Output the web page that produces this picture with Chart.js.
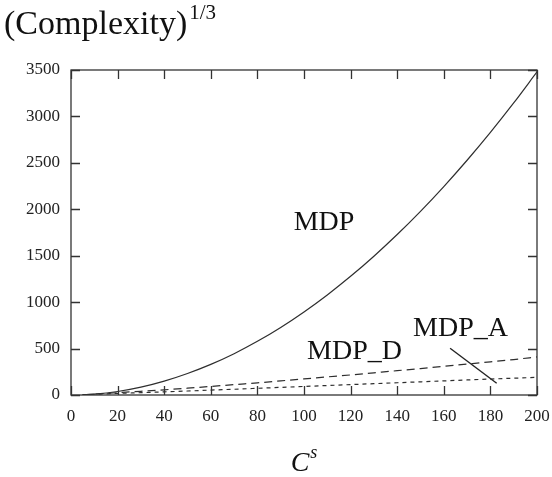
<!DOCTYPE html>
<html>
<head>
<meta charset="utf-8">
<script src="https://cdn.jsdelivr.net/npm/chart.js@4.4.1/dist/chart.umd.min.js"></script>
<style>
  html, body { margin: 0; padding: 0; background: #fff; }
</style>
</head>
<body>
<canvas id="chart" width="552" height="477"></canvas>
<script>
// values
var xValues     = [5, 10, 20, 30, 40, 50, 60, 70, 80, 90, 100, 110, 120, 130, 140, 150, 160, 170, 180, 190, 200];
var mdpValues   = [2, 9, 38, 85, 150, 232, 330, 445, 578, 728, 895, 1078, 1278, 1495, 1728, 1978, 2245, 2528, 2828, 3145, 3480];
var mdpDValues  = [3, 10, 25, 40, 56, 73, 92, 112, 131, 152, 173, 195, 216, 239, 262, 285, 309, 333, 357, 382, 410];
var mdpAValues  = [3, 8, 17, 25, 34, 43, 53, 62, 72, 82, 92, 102, 112, 122, 132, 142, 152, 162, 172, 181, 190];
var xTickValues = [0, 20, 40, 60, 80, 100, 120, 140, 160, 180, 200];
var yTickValues = [0, 500, 1000, 1500, 2000, 2500, 3000, 3500];
// pointer line from the MDP_A label down to its curve
var leaderX = [162.7, 182.7];
var leaderY = [503, 126];

var serif = "'Liberation Serif', 'DejaVu Serif', serif";
var ink = '#2e2e2e';

function pairs(xs, ys) {
    return xs.map(function (x, i) { return { x: x, y: ys[i] }; });
}

var frameAndText = {
    id: 'frameAndText',
    afterDraw: function (chart) {
        var ctx = chart.ctx;
        var a = chart.chartArea;
        var xs = chart.scales.x, ys = chart.scales.y;
        var tick = 9;
        ctx.save();
        ctx.strokeStyle = '#333';
        ctx.lineWidth = 1.3;
        ctx.strokeRect(a.left, a.top, a.right - a.left, a.bottom - a.top);

        // inward ticks on all four sides
        ctx.beginPath();
        xTickValues.forEach(function (v) {
            var px = Math.round(xs.getPixelForValue(v)) + 0.5;
            ctx.moveTo(px, a.bottom); ctx.lineTo(px, a.bottom - tick);
            ctx.moveTo(px, a.top); ctx.lineTo(px, a.top + tick);
        });
        yTickValues.forEach(function (v) {
            var py = Math.round(ys.getPixelForValue(v)) + 0.5;
            ctx.moveTo(a.left, py); ctx.lineTo(a.left + tick, py);
            ctx.moveTo(a.right, py); ctx.lineTo(a.right - tick, py);
        });
        ctx.stroke();

        // curve labels, anchored in data units
        ctx.fillStyle = '#111';
        ctx.font = '28px ' + serif;
        ctx.textBaseline = 'alphabetic';
        ctx.textAlign = 'center';
        ctx.fillText('MDP', xs.getPixelForValue(108.6), ys.getPixelForValue(1777));
        ctx.textAlign = 'left';
        ctx.fillText('MDP_D', xs.getPixelForValue(101.3), ys.getPixelForValue(388));
        ctx.fillText('MDP_A', xs.getPixelForValue(146.8), ys.getPixelForValue(635));

        // y title at top left
        ctx.font = '34px ' + serif;
        ctx.fillText('(Complexity)', 4, 34);
        var w = ctx.measureText('(Complexity)').width;
        ctx.font = '21px ' + serif;
        ctx.fillText('1/3', 4 + w + 2, 19);

        // x title
        var cx = (a.left + a.right) / 2;
        ctx.font = 'italic 28px ' + serif;
        var cw = ctx.measureText('C').width;
        ctx.font = 'italic 18px ' + serif;
        var sw = ctx.measureText('s').width;
        var start = cx - (cw + sw + 1) / 2;
        ctx.font = 'italic 28px ' + serif;
        ctx.fillText('C', start, a.bottom + 76);
        ctx.font = 'italic 18px ' + serif;
        ctx.fillText('s', start + cw + 1, a.bottom + 63);
        ctx.restore();
    }
};

var ctx = document.getElementById('chart').getContext('2d');
var chart = new Chart(ctx, {
    type: 'line',
    data: {
        datasets: [{
            label: 'MDP',
            data: pairs(xValues, mdpValues),
            borderColor: ink,
            borderWidth: 1.2,
            pointRadius: 0,
            cubicInterpolationMode: 'monotone',
            fill: false
        }, {
            label: 'MDP_D',
            data: pairs(xValues, mdpDValues),
            borderColor: ink,
            borderWidth: 1.2,
            borderDash: [8, 5],
            pointRadius: 0,
            cubicInterpolationMode: 'monotone',
            fill: false
        }, {
            label: 'MDP_A',
            data: pairs(xValues, mdpAValues),
            borderColor: ink,
            borderWidth: 1.2,
            borderDash: [4, 4],
            pointRadius: 0,
            cubicInterpolationMode: 'monotone',
            fill: false
        }, {
            label: 'pointer',
            data: pairs(leaderX, leaderY),
            borderColor: '#222',
            borderWidth: 1.4,
            pointRadius: 0,
            fill: false
        }]
    },
    options: {
        responsive: false,
        animation: false,
        events: [],
        layout: { padding: { left: 0, top: 70, right: 15, bottom: 0 } },
        plugins: {
            legend: { display: false },
            tooltip: { enabled: false },
            title: { display: false }
        },
        scales: {
            x: {
                type: 'linear',
                min: 0,
                max: 200,
                grid: { display: false, drawTicks: false },
                border: { display: false },
                ticks: {
                    stepSize: 20,
                    padding: 11,
                    maxRotation: 0,
                    color: '#222',
                    font: { family: serif, size: 17 },
                    callback: function (v) { return String(v); }
                },
                afterFit: function (scale) {
                    scale.height = 82;
                    scale.paddingLeft = 0;
                    scale.paddingRight = 0;
                }
            },
            y: {
                type: 'linear',
                min: 0,
                max: 3500,
                grid: { display: false, drawTicks: false },
                border: { display: false },
                ticks: {
                    stepSize: 500,
                    padding: 11,
                    color: '#222',
                    font: { family: serif, size: 17 },
                    callback: function (v) { return String(v); }
                },
                afterFit: function (scale) { scale.width = 71; }
            }
        }
    },
    plugins: [frameAndText]
});
</script>
</body>
</html>
